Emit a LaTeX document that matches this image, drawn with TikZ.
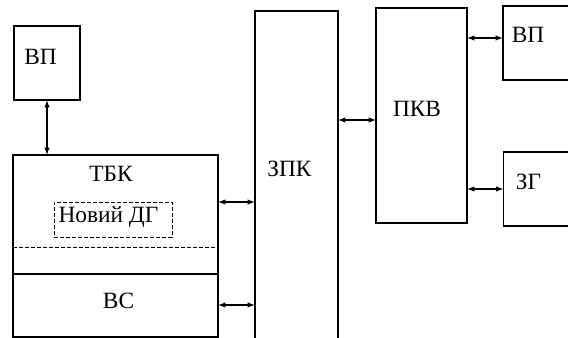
\documentclass[tikz,border=0pt]{standalone}
\usepackage{fontspec}
\setmainfont{Liberation Serif}
\usepackage{tikz}
\usetikzlibrary{arrows.meta, positioning}
\tikzset{
	box/.style={rectangle, draw, line width=0.8pt, inner sep=0pt, outer sep=0pt},
	dgbox/.style={rectangle, draw, dash pattern=on 3pt off 1.5pt, line width=0.7pt, inner sep=0pt, outer sep=0pt},
	txt/.style={anchor=base, inner sep=0pt, font=\fontsize{17.5}{20}\selectfont},
	arr/.style={{Latex[length=5.5pt,width=4pt]}-{Latex[length=5.5pt,width=4pt]}, line width=0.8pt}
}
\begin{document}
\begin{tikzpicture}[x=0.75pt, y=-0.75pt]
        \useasboundingbox (0,0) rectangle (568,338);

        \node[box, minimum width=49.5pt, minimum height=55.5pt] (vpl) at (47, 63) {};
        \node[box, minimum width=153.75pt, minimum height=136.5pt] (tbk) at (115.5, 246) {};
        \node[dgbox, minimum width=88.5pt, minimum height=26.25pt] (dg) at (113, 219.5) {};
        \node[box, minimum width=62.25pt, minimum height=261.75pt] (zpk) at (296.5, 185.5) {};
        \node[box, minimum width=68.25pt, minimum height=161.25pt] (pkv) at (421.5, 115.5) {};
        \node[box, minimum width=65.25pt, minimum height=55.5pt] (vpr) at (546.5, 43) {};
        \node[box, minimum width=65.25pt, minimum height=55.5pt] (zg) at (547, 189) {};

        % texts
        \node[txt] (tvpl) at (40.5, 65) {ВП};
        \node[txt] (ttbk) at (111, 182) {ТБК};
        \node[txt] (tdg) at (108.5, 222.5) {Новий ДГ};
        \node[txt] (tvs) at (118.5, 309) {ВС};
        \node[txt] (tzpk) at (289.5, 177) {ЗПК};
        \node[txt] (tpkv) at (417, 117) {ПКВ};
        \node[txt] (tvpr) at (528, 43) {ВП};
        \node[txt] (tzg) at (528.5, 190) {ЗГ};

        % inner lines of ТБК
        \draw[dash pattern=on 3pt off 1.5pt, line width=0.7pt] (tbk.west |- 0,247) -- (tbk.east |- 0,247);
        \draw[line width=0.8pt] (tbk.west |- 0,274) -- (tbk.east |- 0,274);

        \draw[arr] (vpl.south) -- (vpl.south |- tbk.north);
        \draw[arr] (tbk.east |- 0,202) -- (zpk.west |- 0,202);
        \draw[arr] (tbk.east |- 0,305) -- (zpk.west |- 0,305);
        \draw[arr] (zpk.east |- 0,120) -- (pkv.west |- 0,120);
        \draw[arr] (pkv.east |- 0,38) -- (vpr.west |- 0,38);
        \draw[arr] (pkv.east |- zg.west) -- (zg.west);
    \end{tikzpicture}
\end{document}
